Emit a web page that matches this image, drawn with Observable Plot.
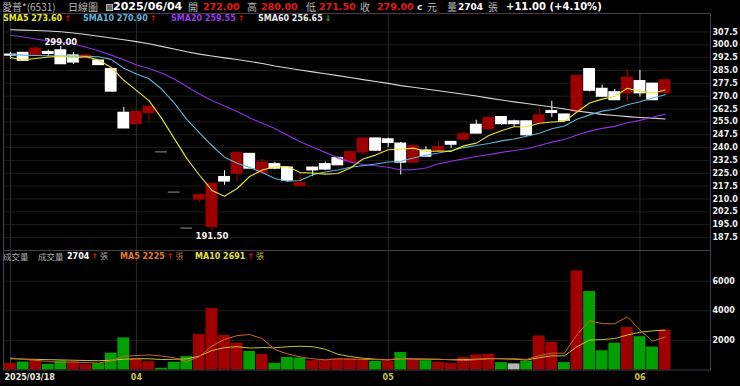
<!DOCTYPE html>
<html><head><meta charset="utf-8">
<script src="https://cdn.jsdelivr.net/npm/d3@7"></script>
<script src="https://cdn.jsdelivr.net/npm/@observablehq/plot@0.6"></script>
<style>
html,body{margin:0;padding:0;background:#000;}
#root{position:relative;width:740px;height:386px;background:#000;overflow:hidden;font-family:"DejaVu Sans",sans-serif;}
.t{position:absolute;white-space:nowrap;}
.cjk{font-family:"Noto Sans CJK TC","Noto Sans CJK SC",sans-serif;color:#b4b4b4;font-weight:normal;}
.b{font-weight:bold;}
.panel{position:absolute;left:0;}
</style></head><body><div id="root"></div>
<script>
const dates = ["2025/03/18","2025/03/19","2025/03/20","2025/03/21","2025/03/24","2025/03/25","2025/03/26","2025/03/27","2025/03/28","2025/03/31",
"2025/04/01","2025/04/02","2025/04/07","2025/04/08","2025/04/09","2025/04/10","2025/04/11","2025/04/14","2025/04/15","2025/04/16",
"2025/04/17","2025/04/18","2025/04/21","2025/04/22","2025/04/23","2025/04/24","2025/04/25","2025/04/28","2025/04/29","2025/04/30",
"2025/05/02","2025/05/05","2025/05/06","2025/05/07","2025/05/08","2025/05/09","2025/05/12","2025/05/13","2025/05/14","2025/05/15",
"2025/05/16","2025/05/19","2025/05/20","2025/05/21","2025/05/22","2025/05/23","2025/05/26","2025/05/27","2025/05/28","2025/05/29",
"2025/06/02","2025/06/03","2025/06/04"];
const open = [294,295,294,295.5,296.5,293.5,292.5,290.5,285.5,260, 254,260.5,237.5,214,193,210,194,222.5,225,236, 225.5,230,228,218,228,230,233.5,232,237.5,245, 244.5,242,231.5,238,238.5,243,245,253,251,257.5, 255,255,254.5,261,259,261,285.5,274,272,272, 278.5,277,272];
const high = [295.5,295.5,298.5,297,299,295.5,295,291,285.5,263.5, 261.5,264,237.5,214,193,212,219,226.5,237.5,236.5, 233,231.5,228.5,225,228.5,231.5,234.5,237.5,245.5,245.5, 245.5,243,242,240.5,243,243.5,249,256,258,258, 256,255.5,263,267,259.5,281.5,286,276.5,274,285.5, 285,277.5,280];
const low = [291.5,290.5,293.5,293,288.5,288.5,292,288,272.5,251, 253.5,255.5,237.5,214,193,208,191.5,218,220,228, 224,227,220,217.5,223,226.5,230,231.5,235.5,238, 240,224,231,234.5,238,239.5,244,248,250.5,253, 252,246.5,254,257.5,255.5,260.5,272.5,269.5,267.5,266.5, 269.5,267.5,271.5];
const close = [294,291,297.5,295,289,290,293.5,288.5,273,251.5, 260.5,263.5,237.5,214,193,212,218.5,220.5,236.5,228, 231,228,221,219,227,227.5,230,237,245,238.5, 243,231.5,240.5,235,240,242,247.5,248.5,257,254, 254,247.5,258.5,260.5,256,281.5,273.5,270,268,280.5, 272,268,279];
const sma5 = [292.6,291.1,292,292.9,293.3,292.5,293,291.2,286.8,279.3, 273.4,267.4,257.2,245.4,233.7,224,215,211.6,216.1,223.1, 226.9,228.8,228.9,225.4,225.2,224.5,224.9,228.1,233.3,235.6, 238.7,239,239.7,237.7,238,237.8,241,242.6,247,249.8, 252.2,252.2,254.2,254.9,255.3,260.8,266,268.3,269.8,274.7, 272.8,271.7,273.6];
const sma10 = [294.3,294,293.8,293.6,293.4,293.4,293.3,293,291.5,286.3, 283,280.2,274.2,266.1,256.5,248.7,241.2,234.4,230.8,228.4, 225.5,221.9,220.3,220.8,224.2,225.7,226.9,228.5,229.4,230.4, 231.6,232,233.9,235.5,236.8,238.3,240,241.2,242.4,243.9, 245,246.6,248.4,251,252.6,256.5,259.1,261.3,262.4,265, 266.8,268.9,270.9];
const sma20 = [305.6,304.6,303.4,302.3,301.6,300.5,298.6,296.5,294,291.3, 288.2,286.2,283.5,280,275.7,271.3,267.5,264.3,261.1,257.4, 254.2,251.1,247.2,243.4,240.3,237.2,234,231.5,230.1,229.4, 228.5,226.9,227.1,228.1,230.5,232,233.4,234.8,235.9,237.2, 238.3,239.3,241.2,243.2,244.7,247.4,249.6,251.2,252.4,254.5, 255.9,257.7,259.55];
const sma60 = [308.8,308.6,308.4,308.1,307.6,306.9,306,305,304,303, 301.9,300.6,299.1,297.6,296,294.6,293.5,292.4,291.4,290.3, 289.1,287.6,286.5,285.3,284.2,283.1,282,280.9,279.7,278.6, 277.5,276.2,275.2,274.2,273.2,272.2,271.1,270.1,268.9,267.8, 266.7,265.7,264.7,263.7,262.5,261.4,260.4,259.4,258.7,258.1, 257.6,257.2,256.65];
const volume = [450,540,610,385,610,540,365,435,1140,2170, 770,560,120,520,900,2410,4160,2340,1810,1250, 1050,450,850,810,630,680,770,770,720,590, 610,1180,700,630,520,450,850,1015,1055,500, 415,590,2300,1870,500,6690,5310,1300,1810,2880, 2250,1550,2704];
const volMa5 = [820,720,650,580,520,538,502,467,619,930, 975,1014,951,827,573,902,1621,2066,2324,2395, 2124,1383,1084,884,759,685,748,731,713,705, 691,774,760,743,729,697,631,694,779,775, 767,715,971,1135,1135,2390,3333,3134,3122,3597, 2709,1956,2225];
const volMa10 = [760,740,720,700,680,660,640,630,660,725, 757,758,709,723,751,939,1318,1509,1576,1484, 1513,1502,1575,1604,1577,1404,1065,908,798,732, 688,761,746,728,717,694,703,727,761,752, 732,673,833,957,955,1579,2024,2053,2129,2366, 2549,2645,2691];
const priceTicks = [187.5,195,202.5,210,217.5,225,232.5,240,247.5,255,262.5,270,277.5,285,292.5,300,307.5];
const volumeTicks = [2000,4000,6000];
const monthTicks = ["2025/03/18","2025/04/01","2025/05/02","2025/06/02"];
const monthLabels = ["2025/03/18","04","05","06"];

const rows = dates.map((date,i)=>({date, open:open[i], high:high[i], low:low[i], close:close[i],
  volume:volume[i], sma5:sma5[i], sma10:sma10[i], sma20:sma20[i], sma60:sma60[i], volMa5:volMa5[i], volMa10:volMa10[i],
  prev: i>0 ? close[i-1] : null}));
const RED="#9c0000", WICK_RED="#b00000", WHITE="#ffffff", FLAT="#7a7a7a";
const isFlat = d => d.high === d.low;
const up = d => d.close > d.open;
const solid = rows.filter(d=>!isFlat(d));
const flat = rows.filter(isFlat);
const maxRow = rows.reduce((a,b)=> b.high>a.high?b:a);
const minRow = rows.reduce((a,b)=> b.low<a.low?b:a);
const tickRows = monthTicks.map((d,i)=>({date:d, label:monthLabels[i]}));

const xScale = () => ({type:"band", domain:dates, range:[3.33,671.3], padding:0.06, align:0.5, axis:null});
const baseStyle = {background:"transparent", fontFamily:"'DejaVu Sans', sans-serif", color:"#fff"};

const price = Plot.plot({
  width:740, height:250, marginTop:13, marginBottom:0, marginLeft:3, marginRight:30,
  style: baseStyle,
  x: xScale(),
  y: {domain:[179.9,318.3], axis:null},
  color: {type:"identity"},
  marks: [
    Plot.ruleY(priceTicks, {stroke:"#1c1c1c"}),
    Plot.ruleX(monthTicks, {stroke:"#2a2a2a"}),
    Plot.frame({stroke:"#4b3b4b"}),
    Plot.ruleX(solid, {x:"date", y1:"low", y2:"high", stroke: d=> up(d)?WICK_RED:WHITE, strokeWidth:1}),
    Plot.barY(solid, {x:"date", y1: d=>Math.min(d.open,d.close), y2: d=>Math.max(d.open,d.close), fill: d=> up(d)?RED:WHITE, insetTop:-1.1, insetBottom:-1.1}),
    Plot.tickY(flat, {x:"date", y:"close", stroke:FLAT, strokeWidth:1.2}),
    Plot.line(rows, {x:"date", y:"sma60", stroke:"#d6d6d6", strokeWidth:1.1}),
    Plot.line(rows, {x:"date", y:"sma20", stroke:"#8e2fe0", strokeWidth:1.1}),
    Plot.line(rows, {x:"date", y:"sma10", stroke:"#5fb2d8", strokeWidth:1.1}),
    Plot.line(rows, {x:"date", y:"sma5", stroke:"#e6e62a", strokeWidth:1.1}),
    Plot.axisY(priceTicks, {anchor:"right", tickSize:0, tickPadding:2, fontSize:8, fontWeight:"bold", fill:"#f2f2f2", tickFormat: d=>d.toFixed(1)}),
    Plot.text([maxRow], {x:"date", y:"high", text: d=>d.high.toFixed(2), lineAnchor:"bottom", dy:-1.5, fill:"#f4f4f4", fontSize:8.5, fontWeight:"bold"}),
    Plot.text([minRow], {x:"date", y:"low", text: d=>d.low.toFixed(2), lineAnchor:"top", dy:2, fill:"#f4f4f4", fontSize:8.5, fontWeight:"bold"})
  ]
});

const volColor = d => d.prev === null ? "#a00000" : d.close > d.prev ? "#a00000" : d.close < d.prev ? "#00a000" : "#b4b4b4";
const vol = Plot.plot({
  width:740, height:136, marginTop:0, marginBottom:16.5, marginLeft:3, marginRight:30,
  style: baseStyle,
  x: xScale(),
  y: {domain:[0,8074], axis:null},
  color: {type:"identity"},
  marks: [
    Plot.ruleY(volumeTicks, {stroke:"#1c1c1c"}),
    Plot.ruleX(monthTicks, {stroke:"#2a2a2a"}),
    Plot.barY(rows, {x:"date", y:"volume", fill: volColor}),
    Plot.line(rows, {x:"date", y:"volMa10", stroke:"#c4c232", strokeWidth:1}),
    Plot.line(rows, {x:"date", y:"volMa5", stroke:"#c8662a", strokeWidth:1}),
    Plot.frame({stroke:"#4b3b4b"}),
    Plot.axisY(volumeTicks, {anchor:"right", tickSize:0, tickPadding:2, fontSize:8, fontWeight:"bold", fill:"#f2f2f2", tickFormat: d=>String(d)}),
    Plot.text(tickRows.slice(0,1), {x:"date", text:"label", frameAnchor:"bottom", dy:9.5, dx:-6, textAnchor:"start", fill:"#ecece0", fontSize:8, fontWeight:"bold"}),
    Plot.text(tickRows.slice(1), {x:"date", text:"label", frameAnchor:"bottom", dy:9.5, fill:"#c8c84a", fontSize:8, fontWeight:"bold"})
  ]
});

const root = document.getElementById("root");
price.classList.add("panel"); price.style.top = "0px";
vol.classList.add("panel"); vol.style.top = "250px";
root.appendChild(price); root.appendChild(vol);

function add(html, x, yc, size, color, cls="b") {
  const el = document.createElement("div");
  el.className = "t " + cls;
  el.style.left = x + "px";
  el.style.top = (yc - size*0.6) + "px";
  el.style.fontSize = size + "px";
  el.style.lineHeight = (size*1.2) + "px";
  if (color) el.style.color = color;
  el.innerHTML = html;
  root.appendChild(el);
  return el;
}
const n = dates.length - 1;
const chg = close[n] - close[n-1];
const pct = chg / close[n-1] * 100;
const sign = v => (v >= 0 ? "+" : "") + v.toFixed(2);
const ARROW_UP = '<span style="color:#e01010;margin-left:2px">↑</span>';
const ARROW_DN = '<span style="color:#18c018;margin-left:2px">↓</span>';
const arrow = (arr) => arr[n] >= arr[n-1] ? ARROW_UP : ARROW_DN;

// header row 1
add("愛普*(6531)", 2, 7, 10, "#b8b8b8", "cjk");
add("日線圖", 68, 7, 10, "#b8b8b8", "cjk");
const sq = document.createElement("div");
sq.style.cssText = "position:absolute;left:106px;top:4px;width:5px;height:5px;background:#6a6a6a;border:1px solid #b0b0b0;";
root.appendChild(sq);
add(dates[n], 113, 7, 11, "#ffffff");
add("開", 188, 7, 10, "#b8b8b8", "cjk");
add(open[n].toFixed(2), 203, 7, 9.5, "#e81818");
add("高", 247, 7, 10, "#b8b8b8", "cjk");
add(high[n].toFixed(2), 261, 7, 9.5, "#e81818");
add("低", 306, 7, 10, "#b8b8b8", "cjk");
add(low[n].toFixed(2), 319, 7, 9.5, "#e81818");
add("收", 360, 7, 10, "#b8b8b8", "cjk");
add(close[n].toFixed(2), 377, 7, 9.5, "#e81818");
add("c", 417, 7, 9.5, "#dddddd");
add("元", 427, 7, 10, "#b8b8b8", "cjk");
add("量", 447, 7, 10, "#b8b8b8", "cjk");
add(String(volume[n]), 458, 7, 9, "#ffffff");
add("張", 488, 7, 10, "#b8b8b8", "cjk");
add(`${sign(chg)} (${sign(pct)}%)`, 506, 7, 10, "#ffffff");

// header row 2
add("SMA5 " + sma5[n].toFixed(2) + arrow(sma5), 3, 18.5, 8, "#e6e632");
add("SMA10 " + sma10[n].toFixed(2) + arrow(sma10), 83, 18.5, 8, "#62b4dc");
add("SMA20 " + sma20[n].toFixed(2) + arrow(sma20), 171, 18.5, 8, "#9a3be6");
add("SMA60 " + sma60[n].toFixed(2) + arrow(sma60), 258, 18.5, 8, "#e8e8e8");

// volume header
add("成交量", 3, 256, 8.5, "#a8a8a8", "cjk");
add("成交量", 38, 256, 8.5, "#a8a8a8", "cjk");
add(String(volume[n]) + arrow(volume) + '<span class="cjk" style="margin-left:2px;color:#a8a8a8">張</span>', 67, 256, 8, "#ffffff");
add("MA5 " + volMa5[n] + arrow(volMa5) + '<span class="cjk" style="margin-left:2px;color:#b06030">張</span>', 120, 256, 8, "#e07a30");
add("MA10 " + volMa10[n] + arrow(volMa10) + '<span class="cjk" style="margin-left:2px;color:#b8b838">張</span>', 195, 256, 8, "#e0e040");
</script></body></html>
